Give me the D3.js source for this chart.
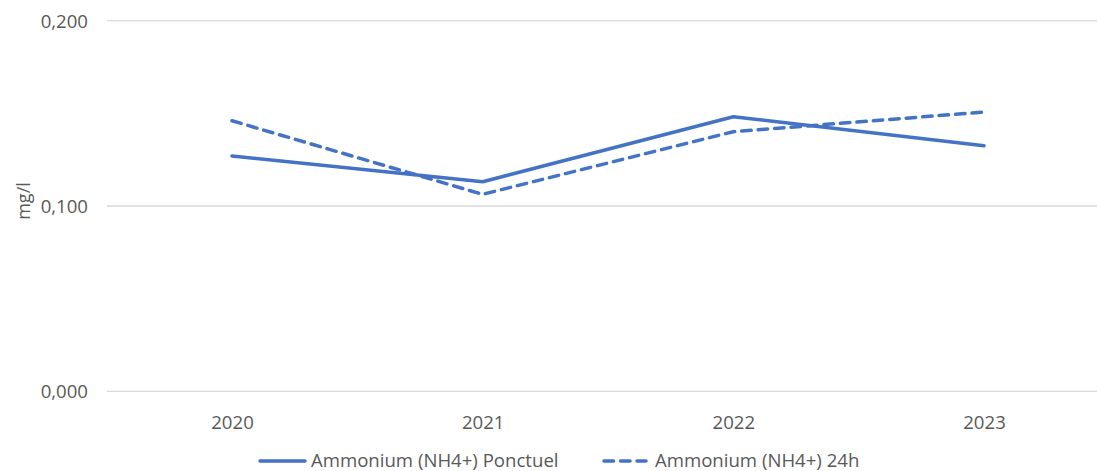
<!DOCTYPE html>
<html><head><meta charset="utf-8">
<script src="https://cdn.jsdelivr.net/npm/d3@7"></script>
<style>
html,body{margin:0;padding:0;background:#fff;}
svg text{font-family:"Open Sans",sans-serif;fill:#595959;}
</style></head>
<body><svg id="c" width="1097" height="471"></svg>
<script>
const categories = ["2020","2021","2022","2023"];
const ponctuel = [0.1270, 0.1131, 0.1482, 0.1325];
const h24 = [0.1460, 0.1063, 0.1401, 0.1507];
const seriesNames = ["Ammonium (NH4+) Ponctuel","Ammonium (NH4+) 24h"];
const yTicks = [0, 0.1, 0.2];
const yTitle = "mg/l";

const svg = d3.select("#c");
const W = 1097, H = 471;
const FS = 18.6;
const x = d3.scalePoint().domain(categories).range([232, 984]);
const y = d3.scaleLinear().domain([0, 0.2]).range([391.3, 20.7]);
const fmt = v => d3.format(".3f")(v).replace(".", ",");
const blue = "#4472C4";

// gridlines
svg.append("g").selectAll("line").data(yTicks).join("line")
  .attr("x1", 107).attr("x2", W)
  .attr("y1", d => y(d)).attr("y2", d => y(d))
  .attr("stroke", "#d9d9d9").attr("stroke-width", 1.3);

// y axis labels
const yAxis = d3.axisLeft(y).tickValues(yTicks).tickFormat(fmt).tickSize(0).tickPadding(0);
const ga = svg.append("g").attr("transform", "translate(88,0)").call(yAxis);
ga.select(".domain").remove();
ga.selectAll("text").attr("font-size", FS).attr("fill", "#595959")
  .attr("font-family", "Open Sans, sans-serif").attr("dy", "0.35em");

// x axis labels
const xAxis = d3.axisBottom(x).tickSize(0).tickPadding(0);
const gx = svg.append("g").attr("transform", "translate(0,422)").call(xAxis);
gx.select(".domain").remove();
gx.selectAll("text").attr("font-size", FS).attr("fill", "#595959")
  .attr("font-family", "Open Sans, sans-serif").attr("dy", "0.35em");

// y title
svg.append("text").attr("transform", "translate(24,201) rotate(-90)")
  .attr("text-anchor", "middle").attr("dy", "0.35em")
  .attr("font-size", 18).text(yTitle);

const line = d3.line().x((d, i) => x(categories[i])).y(d => y(d));
svg.append("path").datum(ponctuel).attr("d", line)
  .attr("fill", "none").attr("stroke", blue).attr("stroke-width", 3.5)
  .attr("stroke-linejoin", "round").attr("stroke-linecap", "round");
svg.append("path").datum(h24).attr("d", line)
  .attr("fill", "none").attr("stroke", blue).attr("stroke-width", 3.5)
  .attr("stroke-dasharray", "9.5,7")
  .attr("stroke-linejoin", "round").attr("stroke-linecap", "round");

// legend
const leg = [
  {x1: 260, x2: 305, tx: 311, dash: null, name: seriesNames[0]},
  {x1: 604, x2: 646, tx: 655, dash: "9.5,7", name: seriesNames[1]}
];
const lg = svg.append("g");
leg.forEach(l => {
  lg.append("line").attr("x1", l.x1).attr("x2", l.x2).attr("y1", 461).attr("y2", 461)
    .attr("stroke", blue).attr("stroke-width", 3.5)
    .attr("stroke-linecap", "round")
    .attr("stroke-dasharray", l.dash);
  lg.append("text").attr("x", l.tx).attr("y", 460).attr("dy", "0.35em")
    .attr("font-size", FS).text(l.name);
});
</script></body></html>
